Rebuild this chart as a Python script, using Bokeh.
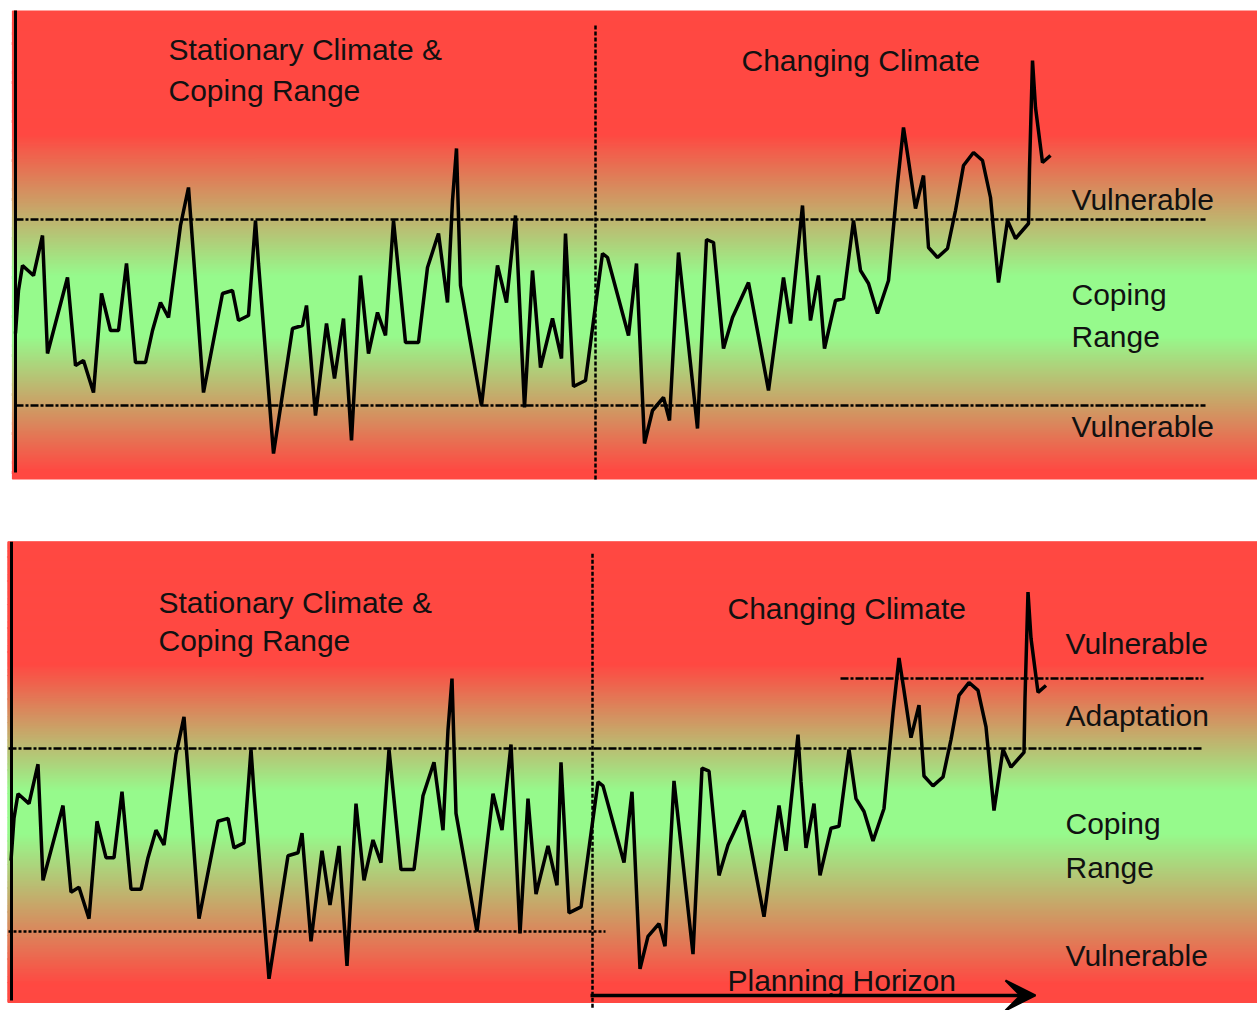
import numpy as np
from bokeh.plotting import figure
from bokeh.layouts import column
from bokeh.models import Arrow, VeeHead, Label
from bokeh.embed import file_html
from bokeh.resources import INLINE

# ---- data (time step, climate variable level; coping range = [0, 186]) ----
time = [0, 3, 7, 18, 27, 32, 52, 60, 68, 78, 86, 95, 103, 111, 120, 130, 137, 145, 153, 165,
        173, 188, 207, 217, 223, 233, 240, 243, 258, 277, 287, 291, 300, 311, 319, 328, 336, 345,
        353, 362, 370, 378, 390, 403, 412, 423, 432, 437, 441, 445, 466, 482, 491, 500, 509, 517,
        525, 537, 546, 550, 558, 570, 587, 592, 613, 621, 629, 637, 648, 654, 663, 682, 691, 698,
        708, 717, 733, 753, 768, 775, 787, 790, 795, 803, 809, 820, 828, 838, 845, 853, 862, 873,
        882, 888, 893, 900, 908, 913, 922, 932, 940, 948, 958, 967, 975, 983, 992, 1000, 1013,
        1014, 1017, 1020, 1027, 1035]
level = [72, 115, 140, 130, 170, 52, 128, 40, 45, 13, 112, 75, 75, 142, 43, 43, 75, 103, 88, 180,
         218, 13, 112, 115, 85, 90, 185, 142, -48, 77, 80, 100, -10, 82, 27, 87, -35, 130,
         52, 93, 70, 185, 63, 63, 138, 172, 103, 205, 257, 120, 0, 140, 103, 190, -2, 135,
         38, 87, 47, 172, 19, 25, 152, 148, 70, 142, -38, -5, 8, -15, 153, -23, 166, 163,
         57, 88, 123, 15, 128, 82, 200, 152, 85, 130, 57, 105, 107, 185, 135, 122, 92, 125,
         222, 278, 245, 197, 230, 158, 148, 157, 195, 240, 253, 245, 208, 123, 185, 167, 182,
         237, 345, 298, 243, 250]

lower_threshold = 0
upper_threshold = 186
adaptation_threshold = 257
change_start = [580, 581.5]

FONT = "Liberation Sans"
RED = np.array([255, 72, 66])
GREEN = np.array([150, 250, 140])
DASH_H = "8 2 3 2"


def make_fig(x0, x1, y0, y1, h):
    p = figure(width=1257, height=h, x_range=(x0, x1), y_range=(y0, y1),
               x_axis_type=None, y_axis_type=None, toolbar_location=None,
               output_backend="svg", min_border=0, min_border_left=0,
               min_border_right=0, min_border_top=0, min_border_bottom=0)
    p.outline_line_color = None
    p.background_fill_color = "white"
    p.border_fill_color = "white"
    p.xgrid.visible = False
    p.ygrid.visible = False
    return p


def gradient(p, xl, xr, yb, yt, red_hi, green_hi, green_lo, red_lo, n=480):
    edges = np.linspace(yb, yt, n + 1)
    mids = 0.5 * (edges[:-1] + edges[1:])
    cols = []
    for m in mids:
        if m >= red_hi or m <= red_lo:
            f = 0.0
        elif green_lo <= m <= green_hi:
            f = 1.0
        elif m > green_hi:
            f = (red_hi - m) / (red_hi - green_hi)
        else:
            f = (m - red_lo) / (green_lo - red_lo)
        c = RED + f * (GREEN - RED)
        cols.append("#%02x%02x%02x" % tuple(int(round(v)) for v in c))
    p.quad(left=xl, right=xr, bottom=edges[:-1], top=edges[1:],
           fill_color=cols, line_color=cols, line_width=1.2)


def txt(p, x, y, s):
    p.add_layout(Label(x=x, y=y, text=s, text_font=FONT, text_font_size="30px",
                       text_color="#111111", text_baseline="alphabetic"))


# ---------------- top panel ----------------
p1 = make_fig(-15, 1242, -75, 405, 480)
gradient(p1, -3, 1245, -73.5, 394.5, 272, 130, 70, -65)
p1.line([0, 1190], [upper_threshold] * 2, line_color="black", line_width=2.5, line_dash=DASH_H)
p1.line([0, 1190], [lower_threshold] * 2, line_color="black", line_width=2.5, line_dash=DASH_H)
p1.line([change_start[0]] * 2, [380, -75], line_color="black", line_width=2.5, line_dash="4 2")
p1.line([0, 0], [395, -67], line_color="black", line_width=3)
p1.line(time, level, line_color="black", line_width=3.5)
txt(p1, 153, 356, "Stationary Climate &")
txt(p1, 153, 315, "Coping Range")
txt(p1, 726, 345, "Changing Climate")
txt(p1, 1056, 206, "Vulnerable")
txt(p1, 1056, 111, "Coping")
txt(p1, 1056, 69, "Range")
txt(p1, 1056, -21, "Vulnerable")

# ---------------- bottom panel ----------------
p2 = make_fig(-10.5, 1246.5, -80.28, 458.33, 530)
gradient(p2, -3, 1250, -72, 396, 272, 143, 100, -53)
p2.line([-2.5, 1192.5], [upper_threshold] * 2, line_color="black", line_width=2.5, line_dash=DASH_H)
p2.line([-2.5, 594.5], [lower_threshold] * 2, line_color="black", line_width=2.5, line_dash="3 2")
p2.line([829.5, 1192.5], [adaptation_threshold] * 2, line_color="black", line_width=2.5, line_dash=DASH_H)
p2.line([change_start[1]] * 2, [384, -78], line_color="black", line_width=2.5, line_dash="4 2")
p2.line([0.5, 0.5], [396, -70], line_color="black", line_width=3)
p2.line(time, level, line_color="black", line_width=3.5)
txt(p2, 147.5, 334.5, "Stationary Climate &")
txt(p2, 147.5, 296, "Coping Range")
txt(p2, 716.5, 328.5, "Changing Climate")
txt(p2, 1054.5, 293, "Vulnerable")
txt(p2, 1054.5, 219.5, "Adaptation")
txt(p2, 1054.5, 110, "Coping")
txt(p2, 1054.5, 65.5, "Range")
txt(p2, 1054.5, -24, "Vulnerable")
txt(p2, 716.5, -50, "Planning Horizon")
p2.add_layout(Arrow(end=VeeHead(size=30, fill_color="black", line_color="black", line_width=2),
                    x_start=579.5, y_start=-65, x_end=1024.5, y_end=-65,
                    line_color="black", line_width=3.5))

layout = column(p1, p2, spacing=0)
open("out.html", "w").write(file_html(layout, INLINE))
